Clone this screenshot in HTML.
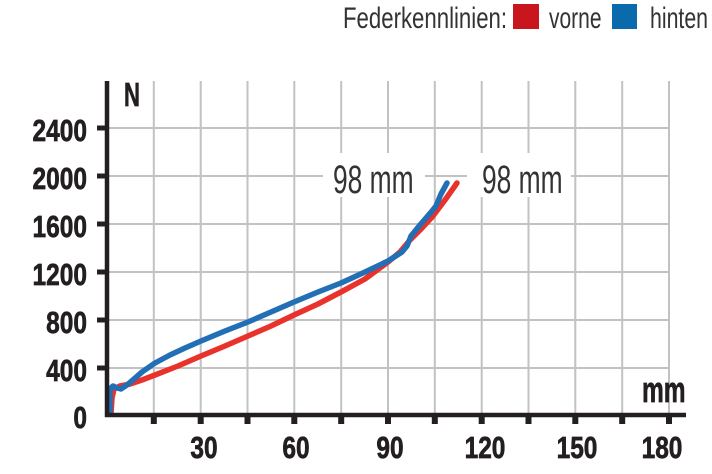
<!DOCTYPE html>
<html><head><meta charset="utf-8"><style>
html,body{margin:0;padding:0;background:#fff;}
svg{display:block;}
text{font-family:"Liberation Sans",sans-serif;fill:#231f20;}
.b{font-weight:bold;stroke:#231f20;stroke-width:0.7;}
</style></head><body>
<svg width="712" height="474" viewBox="0 0 712 474" xmlns="http://www.w3.org/2000/svg">
<!-- grid -->
<g stroke="#c2c2c2" stroke-width="2" fill="none">
<line x1="153.8" y1="81" x2="153.8" y2="414"/>
<line x1="200.7" y1="81" x2="200.7" y2="414"/>
<line x1="247.5" y1="81" x2="247.5" y2="414"/>
<line x1="294.3" y1="81" x2="294.3" y2="414"/>
<line x1="341.2" y1="81" x2="341.2" y2="414"/>
<line x1="388" y1="81" x2="388" y2="414"/>
<line x1="434.8" y1="81" x2="434.8" y2="414"/>
<line x1="481.7" y1="81" x2="481.7" y2="414"/>
<line x1="528.5" y1="81" x2="528.5" y2="414"/>
<line x1="575.3" y1="81" x2="575.3" y2="414"/>
<line x1="622.2" y1="81" x2="622.2" y2="414"/>
<line x1="669" y1="81" x2="669" y2="414"/>
<line x1="107" y1="128" x2="669" y2="128"/>
<line x1="107" y1="176" x2="669" y2="176"/>
<line x1="107" y1="224" x2="669" y2="224"/>
<line x1="107" y1="272" x2="669" y2="272"/>
<line x1="107" y1="320" x2="669" y2="320"/>
<line x1="107" y1="368" x2="669" y2="368"/>
</g>
<!-- label boxes -->
<rect x="323" y="153" width="102" height="44" fill="#fff"/>
<rect x="467" y="153" width="104" height="44" fill="#fff"/>
<text transform="translate(333,193) scale(0.66,1)" font-size="40" style="fill:#333">98 mm</text>
<text transform="translate(482,193) scale(0.66,1)" font-size="40" style="fill:#333">98 mm</text>
<!-- curves -->
<polyline fill="none" stroke="#e8322b" stroke-width="5.5" stroke-linejoin="round" stroke-linecap="round"
points="111,414 112,398 114,389 120,386 130,384 142,380 155,375 178,366 201,356 225,346 248,336 271,326 294,315 318,304 341,292 365,279 388,262 400,252 410,240 422,228 433,216 445,200 457,183"/>
<polyline fill="none" stroke="#236fb6" stroke-width="5.5" stroke-linejoin="round" stroke-linecap="round"
points="110,414 110,389 113,386 117,388 121,389 127,385 134,379 142,372 155,363 170,355 185,348 201,341 225,331 248,322 271,312 294,302 318,292 341,283 365,272 388,261 402,252 407,246 411,236 420,225 432,211 436,206 441,194 447,183"/>
<!-- axes -->
<line x1="107" y1="81" x2="107" y2="417" stroke="#231f20" stroke-width="4.5"/>
<line x1="105" y1="415" x2="686" y2="415" stroke="#231f20" stroke-width="4.5"/>
<g fill="#231f20">
<rect x="97" y="125.5" width="10" height="5"/>
<rect x="97" y="173.5" width="10" height="5"/>
<rect x="97" y="221.5" width="10" height="5"/>
<rect x="97" y="269.5" width="10" height="5"/>
<rect x="97" y="317.5" width="10" height="5"/>
<rect x="97" y="365.5" width="10" height="5"/>
<rect x="150.8" y="415" width="6" height="9"/>
<rect x="197.7" y="415" width="6" height="9"/>
<rect x="244.5" y="415" width="6" height="9"/>
<rect x="291.3" y="415" width="6" height="9"/>
<rect x="338.2" y="415" width="6" height="9"/>
<rect x="385" y="415" width="6" height="9"/>
<rect x="431.8" y="415" width="6" height="9"/>
<rect x="478.7" y="415" width="6" height="9"/>
<rect x="525.5" y="415" width="6" height="9"/>
<rect x="572.3" y="415" width="6" height="9"/>
<rect x="619.2" y="415" width="6" height="9"/>
<rect x="666" y="415" width="6" height="9"/>
</g>
<!-- y labels -->
<g font-size="31">
<text class="b" transform="translate(87,141) scale(0.79,1)" text-anchor="end">2400</text>
<text class="b" transform="translate(87,189) scale(0.79,1)" text-anchor="end">2000</text>
<text class="b" transform="translate(87,237) scale(0.79,1)" text-anchor="end">1600</text>
<text class="b" transform="translate(87,285) scale(0.79,1)" text-anchor="end">1200</text>
<text class="b" transform="translate(87,333) scale(0.79,1)" text-anchor="end">800</text>
<text class="b" transform="translate(87,381) scale(0.79,1)" text-anchor="end">400</text>
<text class="b" transform="translate(87,428) scale(0.79,1)" text-anchor="end">0</text>
</g>
<!-- x labels -->
<g font-size="31">
<text class="b" transform="translate(204,458) scale(0.79,1)" text-anchor="middle">30</text>
<text class="b" transform="translate(296,458) scale(0.79,1)" text-anchor="middle">60</text>
<text class="b" transform="translate(390,458) scale(0.79,1)" text-anchor="middle">90</text>
<text class="b" transform="translate(485,458) scale(0.79,1)" text-anchor="middle">120</text>
<text class="b" transform="translate(577,458) scale(0.79,1)" text-anchor="middle">150</text>
<text class="b" transform="translate(662,458) scale(0.79,1)" text-anchor="middle">180</text>
</g>
<text class="b" transform="translate(124,106) scale(0.67,1)" font-size="33">N</text>
<text class="b" transform="translate(642,402) scale(0.68,1)" font-size="36">mm</text>
<!-- legend -->
<text transform="translate(343,28) scale(0.74,1)" font-size="30" style="fill:#333">Federkennlinien:</text>
<rect x="513" y="4" width="26" height="25" fill="#c9161e"/>
<text transform="translate(549,28) scale(0.70,1)" font-size="30" style="fill:#333">vorne</text>
<rect x="612" y="4" width="25" height="25" fill="#0b6aab"/>
<text transform="translate(650,28) scale(0.71,1)" font-size="30" style="fill:#333">hinten</text>
</svg>
</body></html>
